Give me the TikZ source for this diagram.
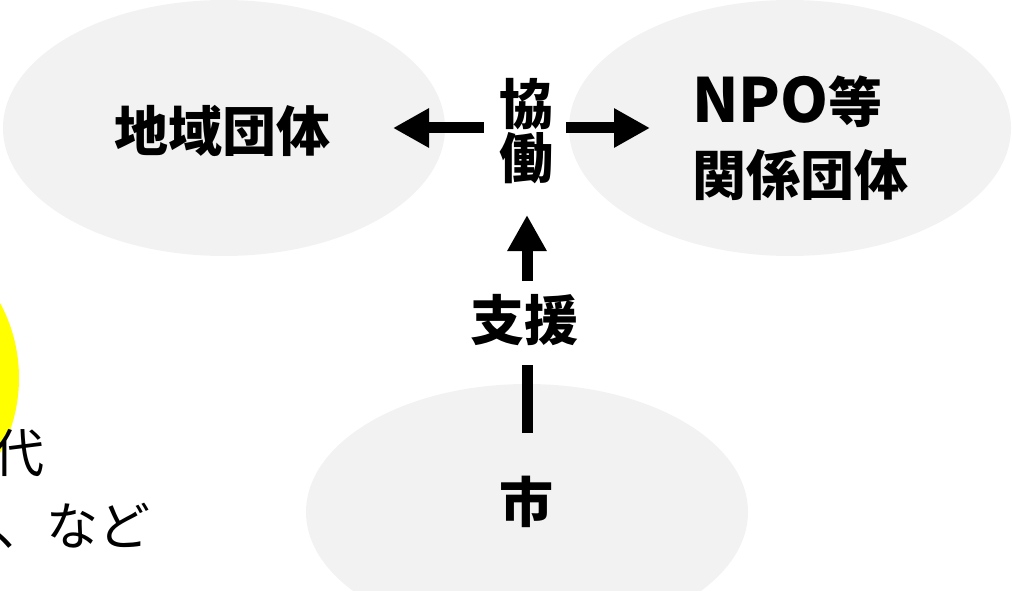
\documentclass[tikz,border=0pt]{standalone}
\usepackage{fontspec}
\newfontfamily\jp{Noto Sans CJK JP}
\usetikzlibrary{shapes.geometric,arrows.meta}
\definecolor{ellgray}{RGB}{242,242,242}
\definecolor{sunyellow}{RGB}{255,255,0}
\begin{document}
\begin{tikzpicture}[x=1pt,y=-1pt,
  blob/.style={ellipse, fill=ellgray, minimum width=442pt, minimum height=256pt, inner sep=0pt},
  boldlbl/.style={font=\jp\bfseries\fontsize{54}{54}\selectfont, inner sep=0pt, text=black},
  thinlbl/.style={font=\jp\fontsize{52}{52}\selectfont, inner sep=0pt, text=black},
  conn/.style={line width=11pt, draw=black},
  arr/.style={conn, -{Triangle[length=36pt,width=37pt]}}]
\useasboundingbox (0,0) rectangle (1013,591);
\clip (0,0) rectangle (1013,591);
% background shapes
\fill[sunyellow] (-139,378) circle[radius=158];
\node[blob] (e1) at (224,128) {};
\node[blob] (e2) at (790,128) {};
\node[blob] (e3) at (527,512) {};
% labels
\node[boldlbl] (chiiki) at (222.5,130.5) {地域団体};
\node[boldlbl, anchor=west, align=left, font=\jp\bfseries\fontsize{54}{73}\selectfont] (npo) at (692,138) {{\fontsize{61}{73}\selectfont NPO}等\\関係団体};
\node[boldlbl, align=center, font=\jp\bfseries\fontsize{54}{54}\selectfont] (kyodo) at (526,131.5) {協\\働};
\node[boldlbl] (shien) at (524,320) {支援};
\node[boldlbl] (shi) at (526,501.5) {市};
\node[thinlbl, anchor=east] (dai) at (45,453) {代};
\node[thinlbl, anchor=east] (nado) at (151,526) {、など};
% connectors
\draw[arr, shorten <=15pt, shorten >=169pt] (kyodo.west |- e1.center) -- (e1.center);
\draw[arr, shorten <=13pt, shorten >=140pt] (kyodo.east |- e2.center) -- (e2.center);
\draw[conn, shorten <=79pt, shorten >=45pt] (e3.center) -- (e3.center |- shien.center);
\draw[arr, shorten <=39pt, shorten >=83.5pt] (e3.center |- shien.center) -- (e3.center |- kyodo.center);
\end{tikzpicture}
\end{document}
